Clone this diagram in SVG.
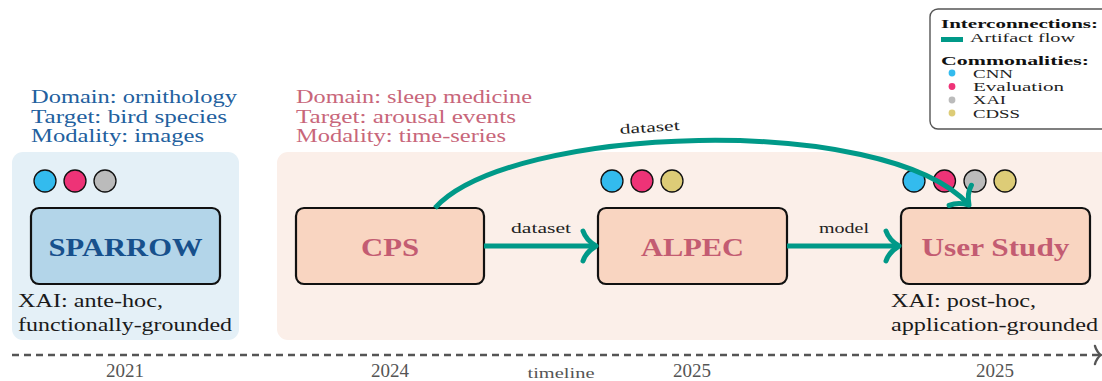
<svg xmlns="http://www.w3.org/2000/svg" width="1102" height="381" viewBox="0 0 1102 381">
<style>
  text { font-family: "Liberation Serif", "Times New Roman", serif; }
  .bgBlue { fill: #e4f0f7; }
  .bgPeach { fill: #fbefe9; }
  .nodeBlue { fill: #b3d5e9; stroke: #111; stroke-width: 2.2; }
  .nodePeach { fill: #f9d5c1; stroke: #111; stroke-width: 2.2; }
  .title { font-size: 26px; font-weight: bold; text-anchor: middle; }
  .tBlue { fill: #17508c; }
  .tPink { fill: #c35c72; }
  .infoBlue { font-size: 18px; fill: #22609e; }
  .infoPink { font-size: 18px; fill: #c8667a; }
  .note { font-size: 18.5px; fill: #1a1a1a; }
  .lbl { font-size: 14px; fill: #222; text-anchor: middle; }
  .year { font-size: 19px; fill: #555; text-anchor: middle; }
  .dot { stroke: #111; stroke-width: 1.3; }
  .cnn { fill: #33bbee; }
  .ev { fill: #ee3377; }
  .xai { fill: #bbbbbb; }
  .cdss { fill: #ddcc77; }
  .flow { fill: none; stroke: #009988; stroke-width: 5; }
  .leg { font-size: 12.5px; fill: #222; }
  .legB { font-size: 13.5px; font-weight: bold; fill: #111; }
</style>
<defs>
  <marker id="arr" markerUnits="userSpaceOnUse" viewBox="-20 -20 26 40" refX="0" refY="0" markerWidth="26" markerHeight="40" orient="auto" overflow="visible">
    <path d="M -13 -15 C -11 -9, -5 -3, 0 0 C -5 3, -11 9, -13 15" fill="none" stroke="#009988" stroke-width="5" stroke-linecap="round" stroke-linejoin="round"/>
  </marker>
  <marker id="tarr" markerUnits="userSpaceOnUse" viewBox="-12 -12 16 24" refX="0" refY="0" markerWidth="16" markerHeight="24" orient="auto" overflow="visible">
    <path d="M -6 -9 C -5 -5, -2 -1, 0 0 C -2 1, -5 5, -6 9" fill="none" stroke="#555" stroke-width="2.4" stroke-linecap="round"/>
  </marker>
</defs>

<!-- backgrounds -->
<g id="groups">
  <rect class="bgBlue" x="12" y="152" width="227" height="188" rx="11"/>
  <rect class="bgPeach" x="277" y="152" width="840" height="188" rx="11"/>
</g>

<!-- domain info -->
<g id="info-sparrow">
  <text class="infoBlue" x="31" y="103" textLength="206" lengthAdjust="spacingAndGlyphs">Domain: ornithology</text>
  <text class="infoBlue" x="31" y="122.5" textLength="196" lengthAdjust="spacingAndGlyphs">Target: bird species</text>
  <text class="infoBlue" x="31" y="142" textLength="173" lengthAdjust="spacingAndGlyphs">Modality: images</text>
</g>
<g id="info-sleep">
  <text class="infoPink" x="296" y="103" textLength="236" lengthAdjust="spacingAndGlyphs">Domain: sleep medicine</text>
  <text class="infoPink" x="296" y="122.5" textLength="220" lengthAdjust="spacingAndGlyphs">Target: arousal events</text>
  <text class="infoPink" x="296" y="142" textLength="210" lengthAdjust="spacingAndGlyphs">Modality: time-series</text>
</g>

<!-- nodes -->
<g id="node-sparrow">
  <circle class="dot cnn" cx="45" cy="181" r="11"/>
  <circle class="dot ev" cx="75" cy="181" r="11"/>
  <circle class="dot xai" cx="105" cy="181" r="11"/>
  <rect class="nodeBlue" x="31" y="208" width="189" height="76" rx="8"/>
  <text class="title tBlue" x="125.5" y="256" textLength="154" lengthAdjust="spacingAndGlyphs">SPARROW</text>
  <text class="note" x="18" y="307" textLength="145" lengthAdjust="spacingAndGlyphs">XAI: ante-hoc,</text>
  <text class="note" x="18" y="331" textLength="214" lengthAdjust="spacingAndGlyphs">functionally-grounded</text>
</g>
<g id="node-cps">
  <rect class="nodePeach" x="296" y="208" width="188" height="76" rx="8"/>
  <text class="title tPink" x="390" y="256" textLength="58" lengthAdjust="spacingAndGlyphs">CPS</text>
</g>
<g id="node-alpec">
  <circle class="dot cnn" cx="612" cy="181" r="11"/>
  <circle class="dot ev" cx="642" cy="181" r="11"/>
  <circle class="dot cdss" cx="672" cy="181" r="11"/>
  <rect class="nodePeach" x="598" y="208" width="189" height="76" rx="8"/>
  <text class="title tPink" x="692.5" y="256" textLength="103" lengthAdjust="spacingAndGlyphs">ALPEC</text>
</g>
<g id="node-userstudy">
  <circle class="dot cnn" cx="914" cy="181" r="11"/>
  <circle class="dot ev" cx="944.5" cy="181" r="11"/>
  <circle class="dot xai" cx="975" cy="181" r="11"/>
  <circle class="dot cdss" cx="1005" cy="181" r="11"/>
  <rect class="nodePeach" x="901" y="208" width="189" height="76" rx="8"/>
  <text class="title tPink" x="995.5" y="256" textLength="148" lengthAdjust="spacingAndGlyphs">User Study</text>
  <text class="note" x="891" y="307" textLength="145" lengthAdjust="spacingAndGlyphs">XAI: post-hoc,</text>
  <text class="note" x="891" y="331" textLength="207" lengthAdjust="spacingAndGlyphs">application-grounded</text>
</g>

<!-- connectors -->
<g id="connectors">
  <path class="flow" d="M 484 246 L 596 246" marker-end="url(#arr)"/>
  <text class="lbl" x="541" y="233" textLength="60" lengthAdjust="spacingAndGlyphs">dataset</text>
  <path class="flow" d="M 787 246 L 899 246" marker-end="url(#arr)"/>
  <text class="lbl" x="844" y="233" textLength="50" lengthAdjust="spacingAndGlyphs">model</text>
  <path class="flow" d="M 435 208 C 510 125, 885 112, 969 205" marker-end="url(#arr)"/>
  <text class="lbl" x="650" y="132" transform="rotate(-4 650 132)" textLength="60" lengthAdjust="spacingAndGlyphs">dataset</text>
</g>

<!-- timeline -->
<g id="timeline">
  <line x1="12" y1="355" x2="1101" y2="355" stroke="#555" stroke-width="2.6" stroke-dasharray="7 5" marker-end="url(#tarr)"/>
  <text class="year" x="125" y="377">2021</text>
  <text class="year" x="390" y="377">2024</text>
  <text class="lbl" x="561" y="378" style="fill:#555" textLength="67" lengthAdjust="spacingAndGlyphs">timeline</text>
  <text class="year" x="692" y="377">2025</text>
  <text class="year" x="995" y="377">2025</text>
</g>

<!-- legend -->
<g id="legend">
  <rect x="930" y="9" width="185" height="120" rx="8" fill="#fff" stroke="#555" stroke-width="1.4"/>
  <text class="legB" x="941" y="28" textLength="157" lengthAdjust="spacingAndGlyphs">Interconnections:</text>
  <rect x="941" y="37" width="22" height="5" fill="#009988"/>
  <text class="leg" x="970" y="42" textLength="105" lengthAdjust="spacingAndGlyphs">Artifact flow</text>
  <text class="legB" x="941" y="65" textLength="148" lengthAdjust="spacingAndGlyphs">Commonalities:</text>
  <circle class="cnn" cx="952" cy="73" r="3.4"/>
  <circle class="ev" cx="952" cy="86.5" r="3.4"/>
  <circle class="xai" cx="952" cy="100" r="3.4"/>
  <circle class="cdss" cx="952" cy="113" r="3.4"/>
  <text class="leg" x="973" y="77.5" textLength="40" lengthAdjust="spacingAndGlyphs">CNN</text>
  <text class="leg" x="973" y="91" textLength="91" lengthAdjust="spacingAndGlyphs">Evaluation</text>
  <text class="leg" x="973" y="104" textLength="33" lengthAdjust="spacingAndGlyphs">XAI</text>
  <text class="leg" x="973" y="118" textLength="47" lengthAdjust="spacingAndGlyphs">CDSS</text>
</g>
</svg>
